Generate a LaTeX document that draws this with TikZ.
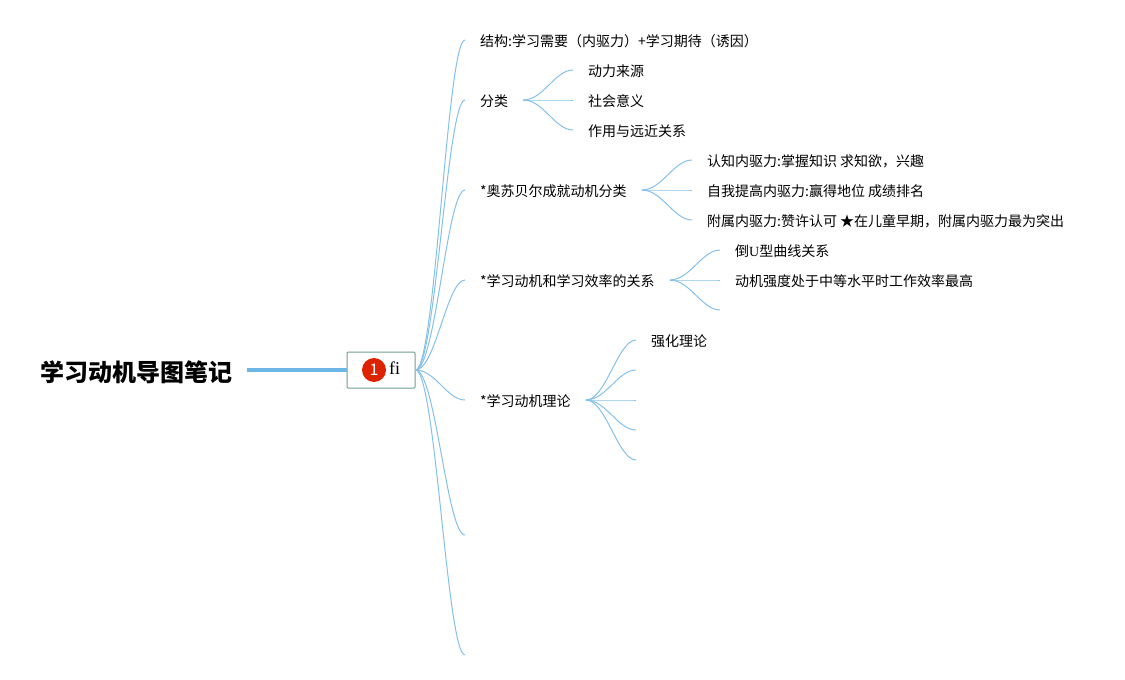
\documentclass[tikz,border=0pt]{standalone}
\usepackage{fontspec}
\usepackage{xcolor}
\setmainfont{Noto Sans CJK SC}
\newfontfamily\serifpart{Liberation Serif}
\definecolor{lnkblue}{HTML}{85C0E8}
\definecolor{rootblue}{HTML}{6CB6E6}
\definecolor{rootedge}{HTML}{6F9F90}
\definecolor{badgered}{HTML}{DD2200}
\tikzset{top/.style={anchor=west,inner xsep=15pt,inner ysep=0pt,text height=13.6pt,text depth=1pt,font=\fontsize{14}{16}\selectfont}}
\tikzset{lnk/.style={draw=lnkblue,line width=1pt,to path={.. controls +(20,0) and +(-18,0) .. (\tikztotarget)}}}

\begin{document}
\begin{tikzpicture}[x=1pt,y=-1pt]
    \useasboundingbox (0,0) rectangle (1125,680);

    \node[anchor=east,inner xsep=14pt,inner ysep=0pt,text height=24pt,text depth=1pt,font=\fontsize{24}{28}\selectfont\bfseries] (title)at (247,370) {学习动机导图笔记};
    \node[draw=rootedge,rounded corners=1pt,line width=1pt,minimum width=68pt,minimum height=36pt,inner sep=0pt] (root)at (381,370) {};
    \node[circle,fill=badgered,text=white,minimum size=24pt,inner sep=0pt,font=\fontsize{16}{16}\selectfont] (badge)at (374,370) {1};
    \node[anchor=west,inner sep=0pt,font=\fontsize{18}{18}\serifpart] (rootfi)at (389,368) {fi};

    \node[top] (a)at (465,40) {结构:学习需要（内驱力）+学习期待（诱因）};
    \node[top] (b)at (465,100) {分类};
    \node[top] (c)at (465,190) {*奥苏贝尔成就动机分类};
    \node[top] (d)at (465,280) {*学习动机和学习效率的关系};
    \node[top] (e)at (465,400) {*学习动机理论};
    \coordinate (f) at (465,535);
    \coordinate (g) at (465,655);

    \node[top] (b1)at (573,70) {动力来源};
    \node[top] (b2)at (573,100) {社会意义};
    \node[top] (b3)at (573,130) {作用与远近关系};

    \node[top] (c1)at (692,160) {认知内驱力:掌握知识 求知欲，兴趣};
    \node[top] (c2)at (692,190) {自我提高内驱力:赢得地位 成绩排名};
    \node[top] (c3)at (692,220) {附属内驱力:赞许认可 ★在儿童早期，附属内驱力最为突出};

    \node[top] (d1)at (720,250) {倒{\serifpart U}型曲线关系};
    \node[top] (d2)at (720,280) {动机强度处于中等水平时工作效率最高};
    \coordinate (d3) at (720,310);

    \node[top] (e1)at (636,340) {强化理论};
    \coordinate (e2) at (636,370);
    \coordinate (e3) at (636,400);
    \coordinate (e4) at (636,430);
    \coordinate (e5) at (636,460);

    \draw [rootblue,line width=4pt] (title) to (root);

    \draw [lnk] (root.east) to (a.west);
    \draw [lnk] (root.east) to (b.west);
    \draw [lnk] (root.east) to (c.west);
    \draw [lnk] (root.east) to (d.west);
    \draw [lnk] (root.east) to (e.west);
    \draw [lnk] (root.east) to (f);
    \draw [lnk] (root.east) to (g);

    \draw [lnk] (b.east) to (b1.west);
    \draw [lnk] (b.east) to (b2.west);
    \draw [lnk] (b.east) to (b3.west);

    \draw [lnk] (c.east) to (c1.west);
    \draw [lnk] (c.east) to (c2.west);
    \draw [lnk] (c.east) to (c3.west);

    \draw [lnk] (d.east) to (d1.west);
    \draw [lnk] (d.east) to (d2.west);
    \draw [lnk] (d.east) to (d3);

    \draw [lnk] (e.east) to (e1.west);
    \draw [lnk] (e.east) to (e2);
    \draw [lnk] (e.east) to (e3);
    \draw [lnk] (e.east) to (e4);
    \draw [lnk] (e.east) to (e5);
\end{tikzpicture}
\end{document}
